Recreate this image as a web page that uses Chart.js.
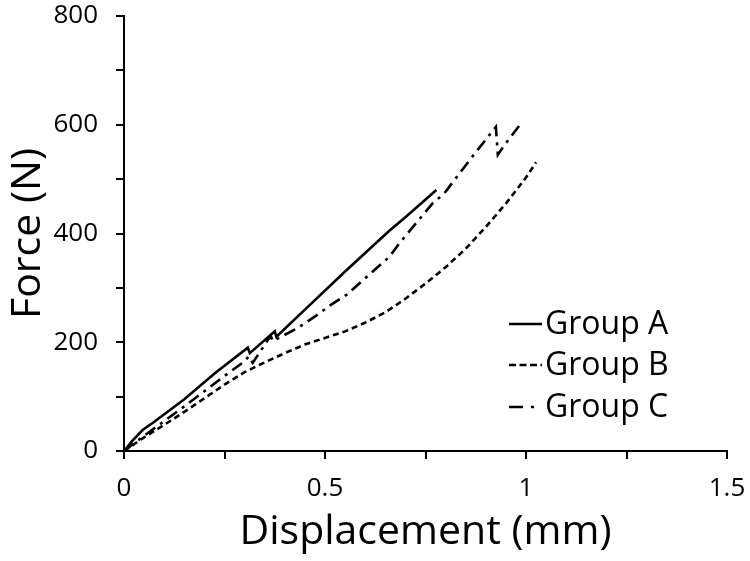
<!DOCTYPE html>
<html>
<head>
<meta charset="utf-8">
<script src="https://cdn.jsdelivr.net/npm/chart.js@4"></script>
<style>
  html, body { margin: 0; padding: 0; background: #fff; }
  #wrap { width: 750px; height: 561px; }
</style>
</head>
<body>
<div id="wrap"><canvas id="forceChart"></canvas></div>
<script>
// Values (displacement in mm, force in N)
const seriesNames = ['Group A', 'Group B', 'Group C'];

const dispA  = [0, 0.02, 0.047, 0.072, 0.15, 0.226, 0.308, 0.313, 0.375, 0.379, 0.45, 0.55, 0.66, 0.70, 0.777];
const forceA = [0, 18, 39, 52, 95, 143, 190, 180, 220, 210, 260, 330, 405, 430, 480];

const dispB  = [0, 0.05, 0.1, 0.15, 0.2, 0.25, 0.3, 0.35, 0.4, 0.45, 0.5, 0.55, 0.6, 0.65, 0.7, 0.75, 0.8, 0.85, 0.9, 0.95, 1.0, 1.025];
const forceB = [0, 25, 48, 72, 97, 122, 145, 163, 180, 196, 208, 220, 236, 255, 280, 308, 338, 372, 412, 455, 503, 531];

const dispC  = [0, 0.05, 0.1, 0.15, 0.2, 0.25, 0.3, 0.31, 0.32, 0.365, 0.37, 0.432, 0.486, 0.511, 0.553, 0.66, 0.685, 0.767, 0.797, 0.866, 0.925, 0.93, 0.95, 0.983];
const forceC = [0, 28, 55, 82, 110, 138, 165, 174, 162, 212, 202, 226, 253, 267, 287, 357, 382, 455, 474, 541, 596, 545, 566, 598];

const xTicks = [0, 0.5, 1, 1.5];
const yTicks = [0, 200, 400, 600, 800];

const dashes = [[], [6, 4], [12, 6, 3, 6]];

const toPoints = (xs, ys) => xs.map((x, i) => ({ x: x, y: ys[i] }));

const fontFace = '"Open Sans", Lato, sans-serif';

// legend drawn inside the plot area, like the original
const insideLegend = {
    id: 'insideLegend',
    afterDraw(chart) {
        const ctx = chart.ctx;
        const rows = [324, 365, 407];
        ctx.save();
        chart.data.datasets.forEach((ds, i) => {
            const y = rows[i];
            ctx.strokeStyle = '#000';
            ctx.lineWidth = 2.6;
            ctx.setLineDash(i === 2 ? [14, 8, 3, 30] : (i === 1 ? [7, 3.5] : []));
            ctx.beginPath();
            ctx.moveTo(509, y);
            ctx.lineTo(542, y);
            ctx.stroke();
            ctx.setLineDash([]);
            ctx.fillStyle = '#000';
            ctx.font = '32px ' + fontFace;
            ctx.textBaseline = 'middle';
            ctx.fillText(ds.label, 545, y + 1);
        });
        ctx.restore();
    }
};

const ctx = document.getElementById('forceChart');
new Chart(ctx, {
    type: 'line',
    data: {
        datasets: [
            { label: seriesNames[0], data: toPoints(dispA, forceA) },
            { label: seriesNames[1], data: toPoints(dispB, forceB) },
            { label: seriesNames[2], data: toPoints(dispC, forceC) }
        ].map((ds, i) => Object.assign(ds, {
            borderColor: '#000',
            borderWidth: 2.6,
            borderDash: dashes[i],
            pointRadius: 0,
            fill: false,
            tension: 0
        }))
    },
    options: {
        responsive: true,
        maintainAspectRatio: false,
        animation: false,
        layout: { padding: { top: 16, right: 23, bottom: 0, left: 0 } },
        plugins: {
            legend: { display: false },
            tooltip: { enabled: false }
        },
        scales: {
            x: {
                type: 'linear',
                min: 0,
                max: 1.5,
                afterBuildTicks(scale) {
                    scale.ticks = [0, 0.25, 0.5, 0.75, 1, 1.25, 1.5].map(v => ({ value: v }));
                },
                afterFit(scale) {
                    scale.height = 110;
                    scale.paddingLeft = 0;
                    scale.paddingRight = 0;
                },
                border: { color: '#000', width: 2 },
                grid: { drawOnChartArea: false, color: '#000', lineWidth: 2, tickLength: 8 },
                ticks: {
                    color: '#000',
                    padding: 14,
                    font: { family: fontFace, size: 26 },
                    maxRotation: 0,
                    callback: v => xTicks.includes(v) ? String(v) : ''
                },
                title: {
                    display: true,
                    text: 'Displacement (mm)',
                    color: '#000',
                    font: { family: fontFace, size: 41 },
                    padding: { top: 0 }
                }
            },
            y: {
                min: 0,
                max: 800,
                afterBuildTicks(scale) {
                    scale.ticks = [0, 100, 200, 300, 400, 500, 600, 700, 800].map(v => ({ value: v }));
                },
                afterFit(scale) {
                    scale.width = 124;
                    scale.paddingTop = 0;
                    scale.paddingBottom = 0;
                },
                border: { color: '#000', width: 2 },
                grid: { drawOnChartArea: false, color: '#000', lineWidth: 2, tickLength: 8 },
                ticks: {
                    color: '#000',
                    padding: 18,
                    font: { family: fontFace, size: 26 },
                    callback: v => yTicks.includes(v) ? String(v) : ''
                },
                title: {
                    display: true,
                    text: 'Force (N)',
                    color: '#000',
                    font: { family: fontFace, size: 41 },
                    padding: { bottom: 2 }
                }
            }
        }
    },
    plugins: [insideLegend]
});
</script>
</body>
</html>
